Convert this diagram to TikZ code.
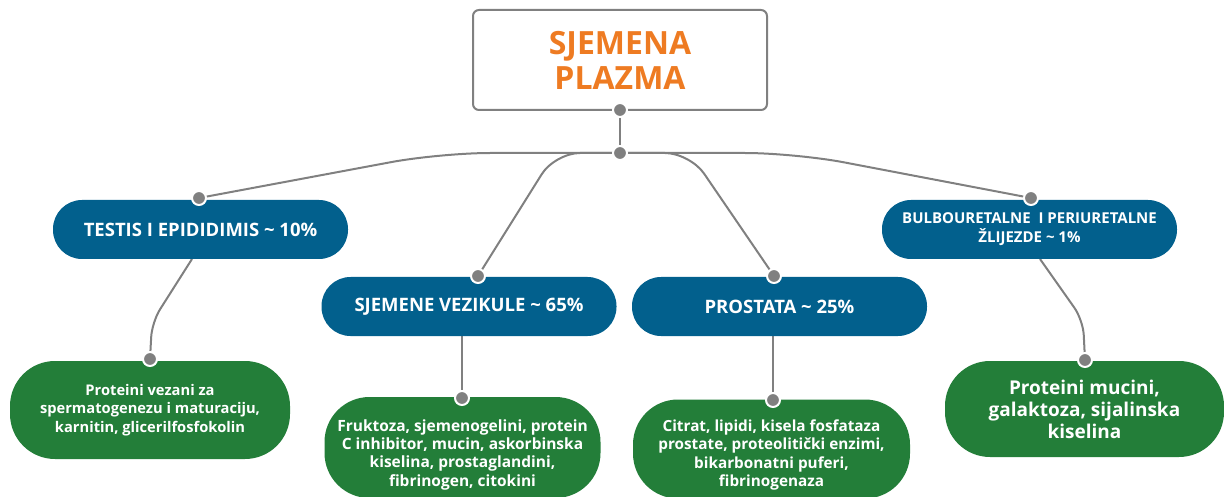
\documentclass[tikz,border=0pt]{standalone}
\usepackage{fontspec}
\setmainfont{Open Sans}
\definecolor{bluec}{HTML}{02608D}
\definecolor{greenc}{HTML}{237E39}
\definecolor{grayc}{HTML}{808080}
\definecolor{orangec}{HTML}{EE7B22}
\newcommand{\lowtext}[2]{\raisebox{#1}[0pt][0pt]{\begin{tabular}{@{}c@{}}#2\end{tabular}}}
\begin{document}
\begin{tikzpicture}[x=1pt,y=-1pt,
  conn/.style={draw=grayc, line width=2pt},
  bluebox/.style={fill=bluec, text=white, font=\bfseries\fontsize{18.5}{19}\selectfont, minimum width=295pt, minimum height=59pt, rounded corners=29pt, align=center, inner sep=0pt},
  greenbox/.style={fill=greenc, text=white, font=\bfseries\fontsize{14.7}{18.8}\selectfont, align=center, inner sep=0pt, rounded corners=45pt},
  dot/.style={circle, fill=grayc, draw=white, line width=2pt, minimum size=14pt, inner sep=0pt}
]
\useasboundingbox (0,0) rectangle (1224,497);

% top node
\node[draw=grayc, line width=2pt, rounded corners=6pt, minimum width=294pt, minimum height=100pt, text=orangec, font=\bfseries\fontsize{32}{35}\selectfont, align=center] (title) at (620,60) {SJEMENA\\PLAZMA};

\coordinate (top) at (620,110);
\coordinate (hub) at (620,153);
\coordinate (d1) at (199,198);
\coordinate (d2) at (478,276);
\coordinate (d3) at (774,276);
\coordinate (d4) at (1031,198);
\coordinate (e1) at (150,359);
\coordinate (e2) at (462,398);
\coordinate (e3) at (773,400);
\coordinate (e4) at (1085,360);
\coordinate (s1) at (192,259);
\coordinate (s4) at (1040,259);

% connectors
\draw[conn] (top) -- (hub);
\draw[conn, rounded corners=50pt] (hub) -- (440,153) -- (d1);
\draw[conn, rounded corners=25pt] (hub) -- (555,153) -- (d2);
\draw[conn, rounded corners=25pt] (hub) -- (690,153) -- (d3);
\draw[conn, rounded corners=50pt] (hub) -- (795,153) -- (d4);
\draw[conn, rounded corners=15pt] (s1) -- (152,322) -- (e1);
\draw[conn, rounded corners=15pt] (s4) -- (1083,320) -- (e4);
\draw[conn] (e2 |- 0,336) -- (e2);
\draw[conn] (e3 |- 0,336) -- (e3);

% blue boxes
\node[bluebox] (b1) at (200.5,229.5) {TESTIS I EPIDIDIMIS \textasciitilde{} 10\%};
\node[bluebox] (b2) at (469,306.5) {SJEMENE VEZIKULE \textasciitilde{} 65\%};
\node[bluebox] (b3) at (779.5,306.5) {PROSTATA \textasciitilde{} 25\%};
\node[bluebox, font=\bfseries\fontsize{15}{19}\selectfont] (b4) at (1029.5,229.5) {BULBOURETALNE\ \ I PERIURETALNE\\ŽLIJEZDE \textasciitilde{} 1\%};

% green boxes
\node[greenbox, minimum width=280pt, minimum height=98pt] (g1) at (150,410) {Proteini vezani za\\spermatogenezu i maturaciju,\\karnitin, glicerilfosfokolin};
\node[greenbox, minimum width=276pt, minimum height=101pt, font=\bfseries\fontsize{15.5}{18.3}\selectfont] (g2) at (462.5,447.5) {\lowtext{-11pt}{Fruktoza, sjemenogelini, protein\\C inhibitor, mucin, askorbinska\\kiselina, prostaglandini,\\fibrinogen, citokini}};
\node[greenbox, minimum width=277pt, minimum height=99pt, font=\bfseries\fontsize{15.3}{18.5}\selectfont] (g3) at (771.5,449) {\lowtext{-10pt}{Citrat, lipidi, kisela fosfataza\\prostate, proteolitički enzimi,\\bikarbonatni puferi,\\fibrinogenaza}};
\node[greenbox, minimum width=279pt, minimum height=96pt, font=\bfseries\fontsize{19}{22}\selectfont] (g4) at (1084.5,409) {Proteini mucini,\\galaktoza, sijalinska\\kiselina};

% dots
\foreach \p in {top,hub,d1,d2,d3,d4,e1,e2,e3,e4} \node[dot] at (\p) {};
\end{tikzpicture}
\end{document}
